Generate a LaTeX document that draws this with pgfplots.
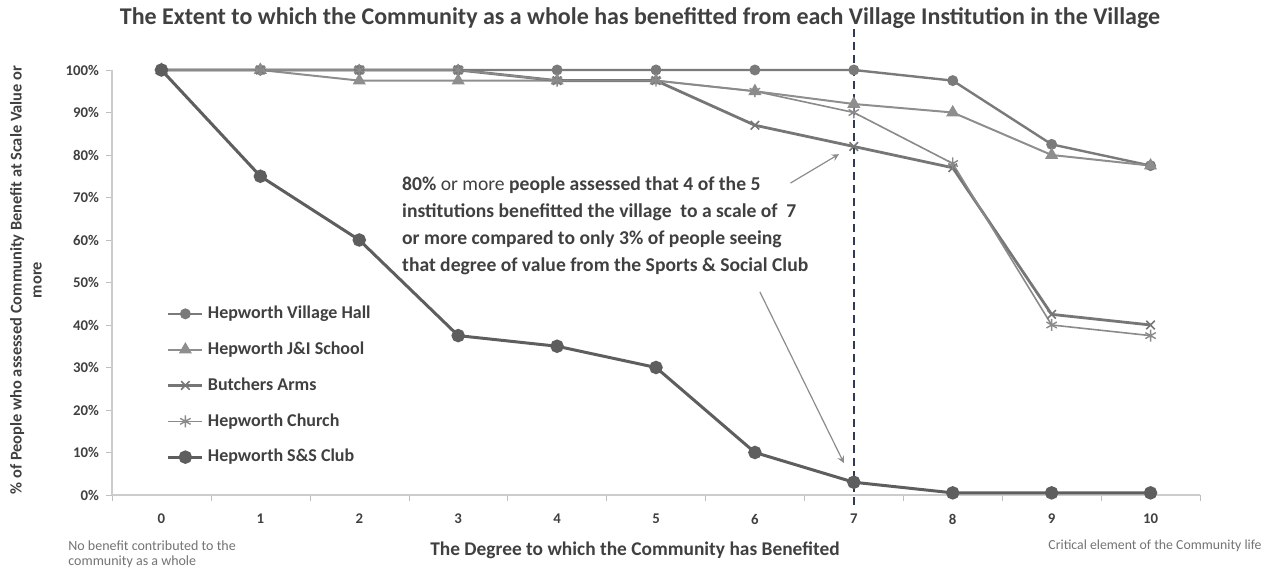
\documentclass[border=0pt]{standalone}
\usepackage{fontspec}
\setmainfont{Carlito}
\usepackage{pgfplots}
\pgfplotsset{compat=1.18}
\definecolor{txt}{HTML}{404040}
\definecolor{cSS}{HTML}{5E5E5E}
\definecolor{cVH}{HTML}{7A7A7A}
\definecolor{cJI}{HTML}{8E8E8E}
\definecolor{cBA}{HTML}{767676}
\definecolor{cCH}{HTML}{8A8A8A}
\definecolor{navy}{HTML}{2E3B55}
\begin{document}
\begin{tikzpicture}[x=1pt,y=1pt]
\useasboundingbox (-56,-38.5) rectangle (582,247.5);
\begin{axis}[
  at={(0,0)}, anchor=south west,
  width=544pt, height=212.5pt, scale only axis,
  xmin=-0.5, xmax=10.5, ymin=0, ymax=100,
  axis x line*=bottom, axis y line*=left,
  axis line style={draw=black!20, line width=0.8pt},
  xtick={0,...,10}, ytick={0,10,...,100},
  yticklabels={0\%,10\%,20\%,30\%,40\%,50\%,60\%,70\%,80\%,90\%,100\%},
  minor xtick={-0.5,0.5,...,10.5},
  tick align=outside,
  major x tick style={draw=none},
  minor tick length=3pt, major tick length=3pt,
  tick style={black!25},
  ticklabel style={font=\bfseries\fontsize{7.4}{9}\selectfont, text=txt},
  xticklabel style={yshift=-3pt},
  /pgf/number format/assume math mode=true,
  clip=false,
  legend style={at={(0.05,0.455)}, anchor=north west, draw=none, fill=none,
    font=\bfseries\fontsize{9}{11}\selectfont, text=txt,
    row sep=6.1pt, inner sep=0pt},
  legend cell align=left,
]
\addplot[color=cVH, line width=1.2pt, mark=*, mark size=2.1pt] coordinates
  {(0,100)(1,100)(2,100)(3,100)(4,100)(5,100)(6,100)(7,100)(8,97.5)(9,82.5)(10,77.5)};
\addlegendentry{Hepworth Village Hall}
\addplot[color=cJI, line width=1.0pt, mark=triangle*, mark size=2.8pt] coordinates
  {(0,100)(1,100)(2,97.5)(3,97.5)(4,97.5)(5,97.5)(6,95)(7,92)(8,90)(9,80)(10,77.5)};
\addlegendentry{Hepworth J\&I School}
\addplot[color=cBA, line width=1.4pt, mark=x, mark size=3pt, mark options={line width=0.8pt}] coordinates
  {(0,100)(1,100)(2,100)(3,100)(4,97.5)(5,97.5)(6,87)(7,82)(8,77)(9,42.5)(10,40)};
\addlegendentry{Butchers Arms}
\addplot[color=cCH, line width=0.8pt, mark=asterisk, mark size=3pt, mark options={line width=0.7pt}] coordinates
  {(0,100)(1,100)(2,100)(3,100)(4,97.5)(5,97.5)(6,95)(7,90)(8,78)(9,40)(10,37.5)};
\addlegendentry{Hepworth Church}
\addplot[color=cSS, line width=1.5pt, mark=*, mark size=2.6pt] coordinates
  {(0,100)(1,75)(2,60)(3,37.5)(4,35)(5,30)(6,10)(7,3)(8,0.5)(9,0.5)(10,0.5)};
\addlegendentry{Hepworth S\&S Club}
\draw[navy, line width=1.3pt, dash pattern=on 4pt off 2.5pt] (axis cs:7,-2.4) -- (axis cs:7,110);
\node[anchor=north west, align=left, text=txt, font=\bfseries\fontsize{9.8}{13.5}\selectfont, inner sep=0pt]
  at (axis cs:2.43,75) {80\% {\mdseries or more} people assessed that 4 of the 5\\
  institutions benefitted the village\ \ to a scale of\ \ 7\\
  or more compared to only 3\% of people seeing\\
  that degree of value from the Sports \& Social Club};
\draw[-stealth, black!45, line width=0.6pt] (axis cs:6.36,73.4) -- (axis cs:6.85,80.2);
\draw[-stealth, black!45, line width=0.6pt] (axis cs:6.05,47.8) -- (axis cs:6.9,7.5);
\end{axis}
\node[font=\bfseries\fontsize{12}{14}\selectfont, text=txt] at (264,238.5)
  {The Extent to which the Community as a whole has benefitted from each Village Institution in the Village};
\node[font=\bfseries\fontsize{8.2}{10}\selectfont, text=txt, rotate=90, align=center] at (-43,107.5)
  {\% of People who assessed Community Benefit at Scale Value or\\ more};
\node[font=\bfseries\fontsize{9.7}{11}\selectfont, text=txt] at (261.5,-27.5)
  {The Degree to which the Community has Benefited};
\node[anchor=north west, align=left, font=\fontsize{7}{7.5}\selectfont, text=black!55, inner sep=0pt] at (-22,-22.5)
  {No benefit contributed to the\\ community as a whole};
\node[anchor=north east, align=left, font=\fontsize{6.9}{7.5}\selectfont, text=black!55, inner sep=0pt] at (575,-22.5)
  {Critical element of the Community life};
\end{tikzpicture}
\end{document}
